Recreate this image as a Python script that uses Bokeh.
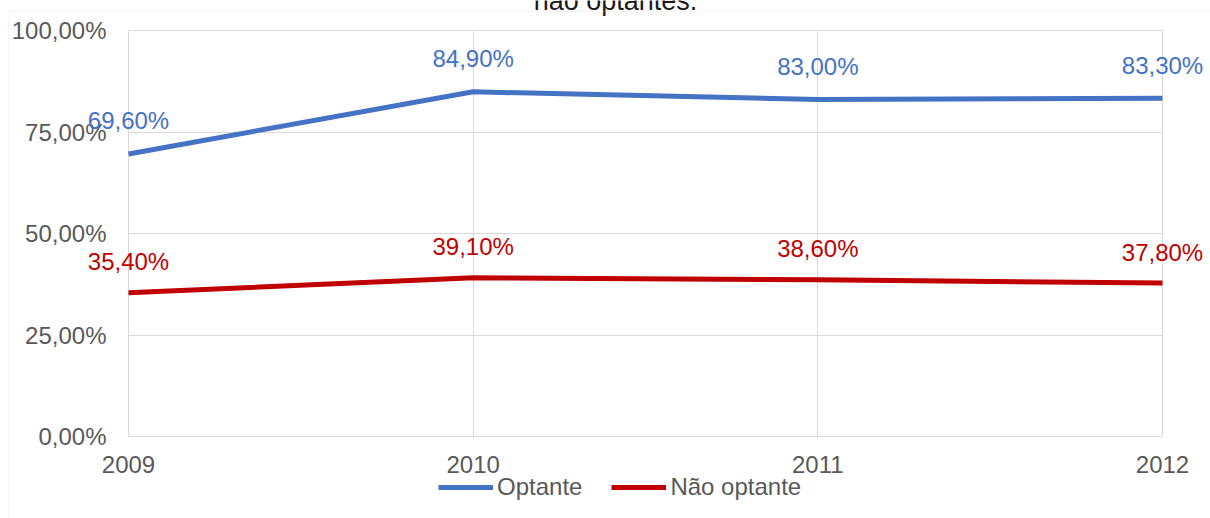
from bokeh.plotting import figure
from bokeh.models import (ColumnDataSource, Range1d, FixedTicker, Legend, LegendItem,
                          Label, BoxAnnotation, Node)
from bokeh.core.properties import value
from bokeh.embed import file_html
from bokeh.resources import INLINE

# ---- data ----
years = [2009, 2010, 2011, 2012]
year_labels = ["2009", "2010", "2011", "2012"]
optante = [69.6, 84.9, 83.0, 83.3]
nao_optante = [35.4, 39.1, 38.6, 37.8]
y_ticks = [0, 25, 50, 75, 100]
y_tick_labels = ["0,00%", "25,00%", "50,00%", "75,00%", "100,00%"]
series_names = ["Optante", "Não optante"]
title_text = "não optantes."

FONT = "Liberation Sans"
FS = "24px"
GRAY = "#595959"
GRID = "#D9D9D9"
BLUE = "#4472C4"
RED = "#C00000"

W, H = 1210, 518
L, R, T, B = 128, 48, 30, 82          # plot-area borders (px)
FW, FH = W - L - R, H - T - B          # plot-area size


def fmt(v):
    return f"{v:.2f}".replace(".", ",") + "%"


src = ColumnDataSource(dict(
    x=years,
    opt=optante,
    nao=nao_optante,
    opt_lbl=[fmt(v) for v in optante],
    nao_lbl=[fmt(v) for v in nao_optante],
))

x0, x1 = years[0], years[-1]
y0, y1 = y_ticks[0], y_ticks[-1]

# ---- base figure: plot area, grid and axes ----
p1 = figure(width=W, height=H, output_backend="svg", toolbar_location=None,
            x_range=Range1d(x0, x1), y_range=Range1d(y0, y1),
            min_border_left=L, min_border_right=R, min_border_top=T,
            min_border_bottom=B)
p1.background_fill_color = "white"
p1.border_fill_color = "white"
p1.outline_line_color = GRID
p1.outline_line_width = 1
p1.xaxis.ticker = FixedTicker(ticks=years)
p1.xaxis.major_label_overrides = {y: l for y, l in zip(years, year_labels)}
p1.yaxis.ticker = FixedTicker(ticks=y_ticks)
p1.yaxis.major_label_overrides = {t: l for t, l in zip(y_ticks, y_tick_labels)}
for ax in (p1.xaxis, p1.yaxis):
    ax.axis_line_color = None
    ax.major_tick_line_color = None
    ax.minor_tick_line_color = None
    ax.major_tick_out = 0
    ax.major_tick_in = 0
    ax.major_label_text_font = FONT
    ax.major_label_text_font_size = FS
    ax.major_label_text_color = GRAY
p1.yaxis.major_label_standoff = 22
p1.xaxis.major_label_standoff = 19
p1.xgrid.grid_line_color = GRID
p1.ygrid.grid_line_color = GRID

# ---- overlay figure: same scales extended over the whole canvas ----
xpx = FW / (x1 - x0)
ypx = FH / (y1 - y0)
p2 = figure(width=W, height=H, output_backend="svg", toolbar_location=None,
            x_range=Range1d(x0 - L / xpx, x1 + R / xpx),
            y_range=Range1d(y0 - B / ypx, y1 + T / ypx),
            x_axis_location=None, y_axis_location=None,
            min_border=0, min_border_left=0, min_border_right=0,
            min_border_top=0, min_border_bottom=0)
p2.margin = (-H, 0, 0, 0)
p2.background_fill_alpha = 0
p2.border_fill_alpha = 0
p2.outline_line_color = None
p2.grid.visible = False

r1 = p2.line("x", "opt", source=src, line_color=BLUE, line_width=5)
r2 = p2.line("x", "nao", source=src, line_color=RED, line_width=5)

p2.text("x", "opt", text="opt_lbl", source=src, text_color=BLUE,
        text_font=value(FONT), text_font_size=FS, text_align="center",
        text_baseline="middle", y_offset=-33)
p2.text("x", "nao", text="nao_lbl", source=src, text_color=RED,
        text_font=value(FONT), text_font_size=FS, text_align="center",
        text_baseline="middle", y_offset=-31)

legend = Legend(items=[LegendItem(label=series_names[0], renderers=[r1]),
                       LegendItem(label=series_names[1], renderers=[r2])],
                orientation="horizontal", location=(438, 17),
                padding=0, margin=0, spacing=29, label_standoff=4,
                glyph_width=55, glyph_height=28, label_height=28, label_width=0,
                label_text_font=FONT, label_text_font_size=FS,
                label_text_color=GRAY, label_text_baseline="middle",
                border_line_alpha=0, background_fill_alpha=0)
p2.add_layout(legend, "center")

# partially visible chart title at the very top
p2.add_layout(Label(x=615, y=H, x_units="screen", y_units="screen",
                    text=title_text, text_align="center", text_baseline="alphabetic",
                    text_font=FONT, text_font_size="27px", text_color="#1a1a1a"))

# chart-area border (left and top edges)
p2.add_layout(BoxAnnotation(
    left=Node(target="canvas", symbol="left", offset=8),
    right=Node(target="canvas", symbol="right", offset=10),
    top=Node(target="canvas", symbol="top", offset=11),
    bottom=Node(target="canvas", symbol="bottom", offset=10),
    fill_alpha=0, line_color=GRID, line_width=1))

p = [p1, p2]
open("out.html", "w").write(file_html(p, INLINE))
